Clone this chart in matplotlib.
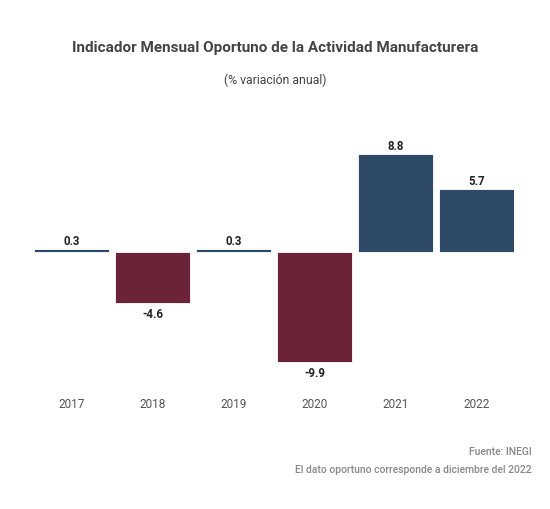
import matplotlib.pyplot as plt

# Datos
years = ['2017', '2018', '2019', '2020', '2021', '2022']
values = [0.3, -4.6, 0.3, -9.9, 8.8, 5.7]

BLUE = '#2f4a66'
RED = '#6c2237'

plt.rcParams['font.family'] = ['Roboto', 'DejaVu Sans']

W, H = 550, 510
fig = plt.figure(figsize=(W / 100, H / 100), dpi=100)

# ejes en pixeles: x 34-514, y 140-380
ax = fig.add_axes([34 / W, 1 - 380 / H, 480 / W, 240 / H])
ax.set_xlim(-75 / 162, 5 + 75 / 162)
ax.set_ylim(-(380 - 253) / 11.12, (253 - 140) / 11.12)

colors = [BLUE if v >= 0 else RED for v in values]
x = list(range(len(years)))
ax.bar(x, values, width=75 / 81, color=colors, edgecolor='white', linewidth=0.6)

for xi, v in zip(x, values):
    if v >= 0:
        ax.annotate(f'{v:.1f}', (xi, v), xytext=(0, 1.5), textcoords='offset points',
                    ha='center', va='bottom', fontsize=8.3, fontweight='bold', color='#222222')
    else:
        ax.annotate(f'{v:.1f}', (xi, v), xytext=(0, -3), textcoords='offset points',
                    ha='center', va='top', fontsize=8.3, fontweight='bold', color='#222222')

ax.set_xticks(x)
ax.set_xticklabels(years, fontsize=8.5, color='#555555')
ax.tick_params(axis='x', length=0, pad=13)
ax.set_yticks([])
for s in ax.spines.values():
    s.set_visible(False)

fig.text(0.5, 1 - 48 / H, 'Indicador Mensual Oportuno de la Actividad Manufacturera',
         ha='center', va='center', fontsize=11, fontweight='bold', color='#444444')
fig.text(0.5, 1 - 80 / H, '(% variación anual)', ha='center', va='center',
         fontsize=8.8, color='#444444')
fig.text(532 / W, 1 - 452 / H, 'Fuente: INEGI', ha='right', va='center',
         fontsize=7.5, fontweight='medium', color='#888888')
fig.text(532 / W, 1 - 470 / H, 'El dato oportuno corresponde a diciembre del 2022',
         ha='right', va='center', fontsize=7.5, fontweight='medium', color='#888888')

fig.savefig('out.png', dpi=100)
